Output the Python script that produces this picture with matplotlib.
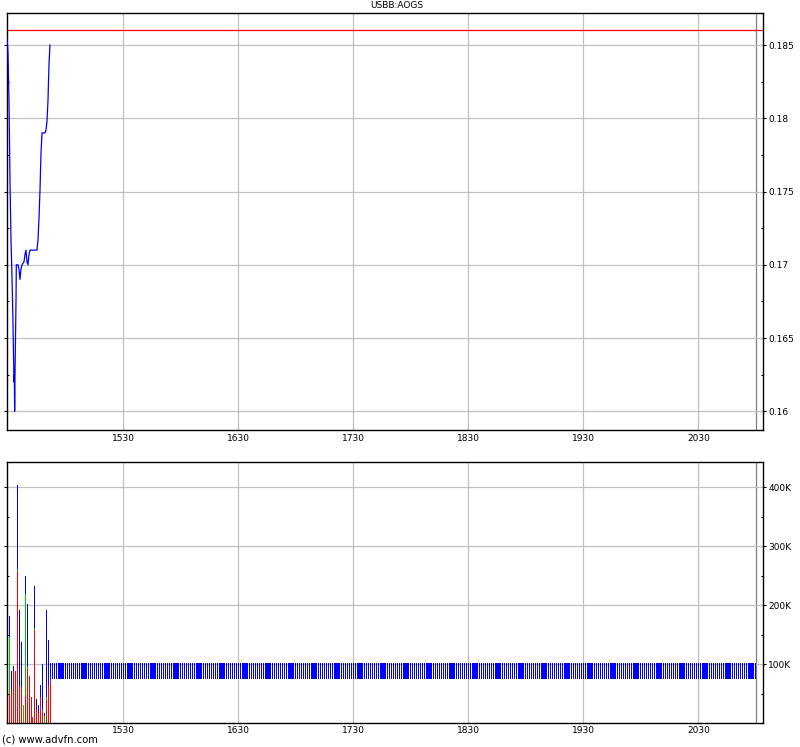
import numpy as np
import matplotlib
matplotlib.use("Agg")
import matplotlib.pyplot as plt
from matplotlib.ticker import FixedLocator, FuncFormatter, MultipleLocator

# ---- data (x = minutes after 14:30) ----
price_t = [-0.68, -0.16, 0.37, 0.89, 1.41, 1.93, 2.45, 2.97, 3.15, 3.32, 3.50, 4.02, 4.19,
           5.06, 5.58, 6.10, 6.63, 7.15, 8.19, 8.71, 9.23, 9.76, 10.28, 10.80, 11.32,
           14.97, 15.50, 16.02, 16.54, 17.06, 17.58, 19.15, 19.67, 20.19, 20.71, 21.23, 21.76]
price = [0.1855, 0.1845, 0.1812, 0.1757, 0.1717, 0.1692, 0.1660, 0.1620, 0.1625, 0.1600, 0.1625,
         0.1675, 0.1700, 0.1700, 0.1697, 0.1690, 0.1697, 0.1700, 0.1702, 0.1707, 0.1710, 0.1702,
         0.1700, 0.1707, 0.1710, 0.1710, 0.1717, 0.1732, 0.1751, 0.1776, 0.1790, 0.1790, 0.1792,
         0.1798, 0.1812, 0.1837, 0.1850]
prev_close = 0.186

vol_t = [0.5, 1.6, 2.6, 3.7, 4.7, 5.8, 6.8, 7.8, 8.9, 9.9, 11.0, 12.0, 12.5, 13.6, 14.6,
         15.7, 16.7, 17.8, 18.8, 19.8, 20.9, 21.9]
vol_red = [48, 56, 89, 89, 258, 63, 62, 0, 48, 93, 80, 45, 10, 159, 24, 17, 44, 20, 0, 40, 65, 75]
vol_green = [98, 0, 0, 0, 4, 0, 0, 31, 172, 3, 0, 0, 0, 3, 0, 0, 0, 3, 12, 4, 0, 0]
vol_blue = [36, 33, 8, 0, 142, 129, 76, 0, 30, 106, 0, 0, 0, 70, 17, 14, 21, 78, 5, 148, 76, 0]

band_start, band_end = 22, 390      # minutes
band_low, band_high = 75, 103       # K

tick_pos = [60, 120, 180, 240, 300, 360]
tick_labels = ["1530", "1630", "1730", "1830", "1930", "2030"]
close_t = 390
price_ticks = [0.16, 0.165, 0.17, 0.175, 0.18, 0.185]
vol_ticks = [100, 200, 300, 400]

# ---- figure ----
W, H = 800, 747
fig = plt.figure(figsize=(W / 100, H / 100), dpi=100)

def rect(l, t, r, b):
    return [l / W, 1 - b / H, (r - l) / W, (b - t) / H]

ax1 = fig.add_axes(rect(6.7, 13.3, 762.7, 430.3))
ax2 = fig.add_axes(rect(6.7, 462.3, 762.7, 722.7))

xlim = (-0.83, 393.6)
grid_c = "#c0c0c0"
fs = 6.5

for ax in (ax1, ax2):
    ax.set_xlim(*xlim)
    for s in ax.spines.values():
        s.set_linewidth(1.0)
        s.set_color("black")
    ax.set_xticks(tick_pos)
    ax.set_xticklabels(tick_labels, fontsize=fs)
    ax.tick_params(axis="x", length=0, pad=2.5)
    for tp in tick_pos:
        ax.axvline(tp, color=grid_c, lw=0.9, zorder=0)
    ax.axvline(close_t, color="#808080", lw=0.9, zorder=0)
    ax.yaxis.tick_right()
    ax.tick_params(axis="y", which="major", direction="out", length=2.5, width=0.8,
                   labelsize=fs, pad=1.5, left=True, right=True)
    ax.tick_params(axis="y", which="minor", direction="in", length=1.5, width=0.8,
                   left=True, right=True)

# price panel
ax1.set_ylim(0.158702, 0.187165)
ax1.yaxis.set_major_locator(FixedLocator(price_ticks))
ax1.yaxis.set_minor_locator(MultipleLocator(0.0025))
ax1.yaxis.set_major_formatter(FuncFormatter(lambda v, p: ("%.3f" % v).rstrip("0")))
for v in price_ticks:
    ax1.axhline(v, color=grid_c, lw=0.9, zorder=0)
ax1.axhline(prev_close, color="#ff0000", lw=0.9, zorder=2)
ax1.plot(price_t, price, color="#0000ff", lw=0.9, zorder=3)

# volume panel
ax2.set_ylim(1, 442.5)
ax2.yaxis.set_major_locator(FixedLocator(vol_ticks))
ax2.yaxis.set_minor_locator(MultipleLocator(50))
ax2.yaxis.set_major_formatter(FuncFormatter(lambda v, p: "%dK" % v))
for v in vol_ticks:
    ax2.axhline(v, color=grid_c, lw=0.9, zorder=0)

bw = 0.62
vr = np.array(vol_red, float)
vg = np.array(vol_green, float)
vb = np.array(vol_blue, float)
ax2.bar(vol_t, vr, width=bw, color="#ff0000", linewidth=0, antialiased=False, zorder=2)
ax2.bar(vol_t, vg, bottom=vr, width=bw, color="#00c000", linewidth=0, antialiased=False, zorder=2)
ax2.bar(vol_t, vb, bottom=vr + vg, width=bw, color="#0000ff", linewidth=0, antialiased=False, zorder=2)
band_t = np.arange(band_start, band_end + 1)
ax2.bar(band_t, band_high - band_low, bottom=band_low, width=bw, color="#0000ff",
        linewidth=0, antialiased=False, zorder=2)

fig.text(397 / W, 1 - 6 / H, "USBB:AOGS", fontsize=fs, ha="center", va="center")
fig.text(2 / W, 1 - 740 / H, "(c) www.advfn.com", fontsize=7.2, ha="left", va="center")

fig.savefig("out.png", dpi=100)
